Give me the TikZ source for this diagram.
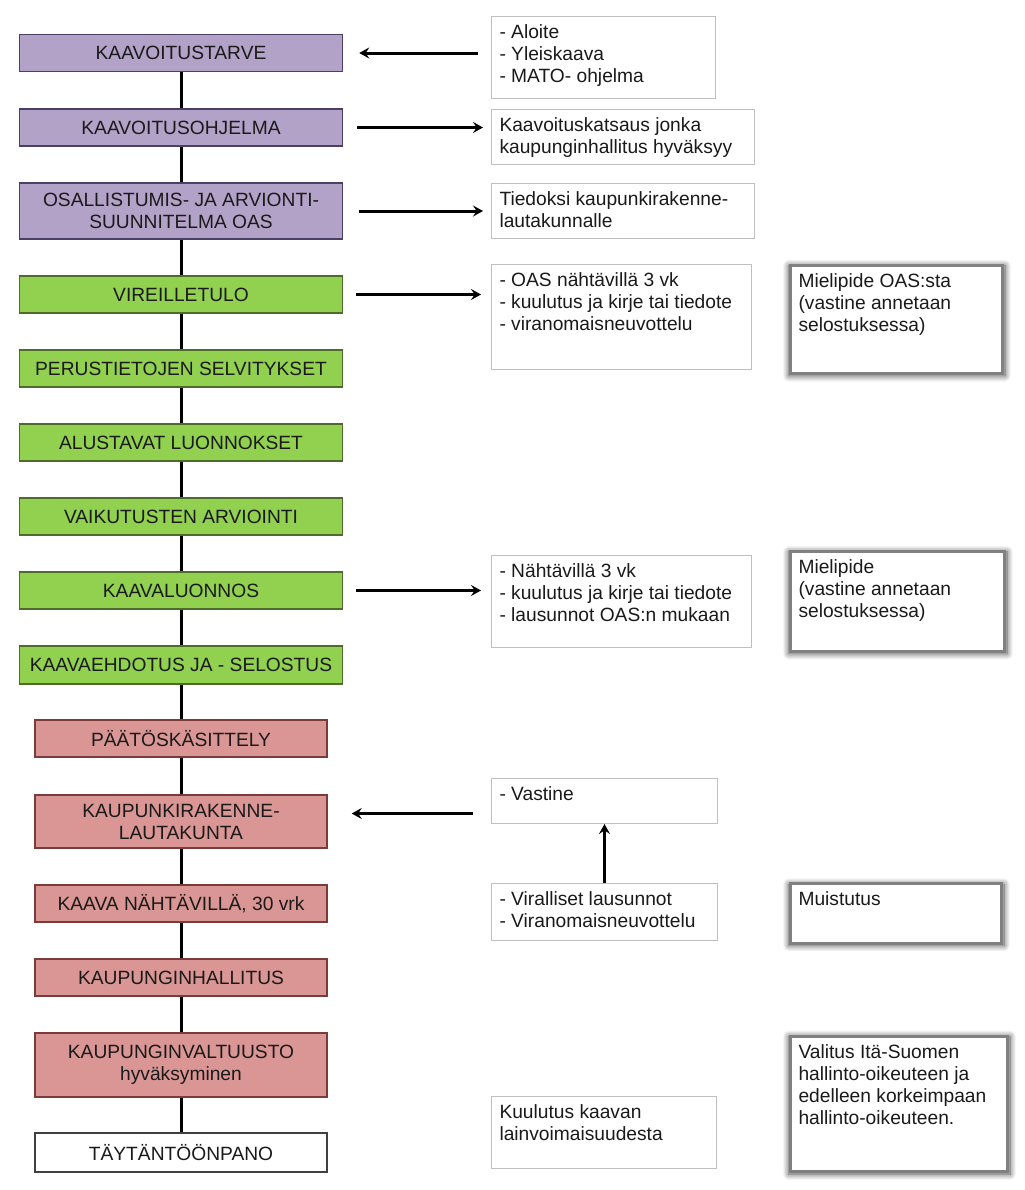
\documentclass[tikz,border=0pt]{standalone}
\usepackage{fontspec}
\setmainfont{Liberation Sans}
\usepackage{tikz}
\usetikzlibrary{arrows.meta, positioning, calc, shadows.blur}
\definecolor{lilafill}{HTML}{B3A2C7}
\definecolor{lilaline}{HTML}{4A3F66}
\definecolor{verdefill}{HTML}{92D050}
\definecolor{verdeline}{HTML}{4F6B2A}
\definecolor{rojofill}{HTML}{D99694}
\definecolor{rojoline}{HTML}{7A3B39}
\definecolor{grisnota}{HTML}{BFBFBF}
\definecolor{grisalerta}{HTML}{808080}
\definecolor{tinta}{HTML}{1A1A1A}

\begin{document}
\begin{tikzpicture}[x=0.5pt, y=-0.5pt,
    % 1. ESTILO BASE: fuente tipo Arial
    base/.style={font=\fontsize{9.6}{11}\selectfont, text=tinta, inner sep=0pt, align=center},
    % 2. FASES DEL PROCESO (columna izquierda)
    fase/.style={base, draw=lilaline, fill=lilafill, line width=0.75pt,
        minimum width=161.5pt, minimum height=18.5pt},
    faseverde/.style={fase, draw=verdeline, fill=verdefill},
    faseroja/.style={fase, draw=rojoline, fill=rojofill, minimum width=146pt},
    fasefinal/.style={faseroja, draw=black!75, fill=white},
    % 3. NOTAS (columna derecha)
    nota/.style={base, draw=grisnota, fill=white, line width=0.5pt,
        anchor=north west, inner xsep=4pt, inner ysep=4pt, align=left},
    alerta/.style={nota, draw=grisalerta, line width=1.5pt,
        blur shadow={shadow xshift=0.2pt, shadow yshift=-0.6pt,
            shadow scale=1.02, shadow blur radius=3pt, shadow blur steps=10,
            shadow opacity=70}},
    % 4. FLECHAS Y CONECTORES
    flecha/.style={-{Stealth[length=5pt, width=5.5pt, inset=1.8pt]},
        line width=1.5pt, color=black, shorten <=6.5pt, shorten >=5pt},
    conector/.style={line width=1.5pt, color=black}
]
    \useasboundingbox (0,0) rectangle (1024,1190);

    % --- COLUMNA 1: Fases ---
    \node[fase] (tarve)   at (181, 53)    {KAAVOITUSTARVE};
    \node[fase] (ohjelma) at (181, 127.5) {KAAVOITUSOHJELMA};
    \node[fase, minimum height=28pt] (oas) at (181, 211)
        {OSALLISTUMIS- JA ARVIONTI-\\SUUNNITELMA OAS};

    \node[faseverde] (vireille)  at (181, 294.5) {VIREILLETULO};
    \node[faseverde] (perus)     at (181, 368.5) {PERUSTIETOJEN SELVITYKSET};
    \node[faseverde] (alustavat) at (181, 442.5) {ALUSTAVAT LUONNOKSET};
    \node[faseverde] (vaikutus)  at (181, 516.5) {VAIKUTUSTEN ARVIOINTI};
    \node[faseverde] (luonnos)   at (181, 590.5) {KAAVALUONNOS};
    \node[faseverde, minimum height=19pt] (ehdotus) at (181, 665)
        {KAAVAEHDOTUS JA - SELOSTUS};

    \node[faseroja] (paatos) at (181, 738.5) {PÄÄTÖSKÄSITTELY};
    \node[faseroja, minimum height=26.5pt] (lauta) at (181, 821.5)
        {KAUPUNKIRAKENNE-\\LAUTAKUNTA};
    \node[faseroja] (nahtavilla) at (181, 903.5) {KAAVA NÄHTÄVILLÄ, 30 vrk};
    \node[faseroja] (hallitus)   at (181, 977.5) {KAUPUNGINHALLITUS};
    \node[faseroja, minimum height=32pt] (valtuusto) at (181, 1065)
        {KAUPUNGINVALTUUSTO\\hyväksyminen};
    \node[fasefinal, minimum height=19.5pt] (taytanto) at (181, 1152.5) {TÄYTÄNTÖÖNPANO};

    % --- COLUMNA 2: Notas ---
    \node[nota] (aloite) at (491, 16)
        {\parbox[t][33pt][t]{104pt}{- Aloite\\- Yleiskaava\\- MATO- ohjelma}};
    \node[nota] (katsaus) at (491, 109)
        {\parbox[t][19.5pt][t]{123.5pt}{Kaavoituskatsaus jonka\\kaupunginhallitus hyväksyy}};
    \node[nota] (tiedoksi) at (491, 183)
        {\parbox[t][19.5pt][t]{123.5pt}{Tiedoksi kaupunkirakenne-\\lautakunnalle}};
    \node[nota] (oasnah) at (491, 264)
        {\parbox[t][44.5pt][t]{122pt}{- OAS nähtävillä 3 vk\\- kuulutus ja kirje tai tiedote\\- viranomaisneuvottelu}};
    \node[nota] (nahtav) at (491, 555)
        {\parbox[t][38pt][t]{122pt}{- Nähtävillä 3 vk\\- kuulutus ja kirje tai tiedote\\- lausunnot OAS:n mukaan}};
    \node[nota] (vastine) at (491, 778)
        {\parbox[t][14.5pt][t]{105pt}{- Vastine}};
    \node[nota] (viralliset) at (491, 883)
        {\parbox[t][20.5pt][t]{105pt}{- Viralliset lausunnot\\- Viranomaisneuvottelu}};
    \node[nota] (kuulutus) at (491, 1096)
        {\parbox[t][28pt][t]{104.5pt}{Kuulutus kaavan\\lainvoimaisuudesta}};

    % --- COLUMNA 3: Mielipiteet ja muistutukset ---
    \node[alerta] (mielipide) at (789, 264)
        {\parbox[t][46pt][t]{98pt}{Mielipide OAS:sta\\(vastine annetaan\\selostuksessa)}};
    \node[alerta] (mielipide2) at (789, 550)
        {\parbox[t][42pt][t]{99pt}{Mielipide\\(vastine annetaan\\selostuksessa)}};
    \node[alerta] (muistutus) at (789, 882)
        {\parbox[t][22pt][t]{97.5pt}{Muistutus}};
    \node[alerta] (valitus) at (789, 1035)
        {\parbox[t][59.5pt][t]{100.5pt}{Valitus Itä-Suomen\\hallinto-oikeuteen ja\\edelleen korkeimpaan\\hallinto-oikeuteen.}};

    % ==========================================
    % CONEXIONES
    % ==========================================

    % Linea vertical entre fases
    \foreach \a/\b in {tarve/ohjelma, ohjelma/oas, oas/vireille, vireille/perus,
        perus/alustavat, alustavat/vaikutus, vaikutus/luonnos, luonnos/ehdotus,
        ehdotus/paatos, paatos/lauta, lauta/nahtavilla, nahtavilla/hallitus,
        hallitus/valtuusto, valtuusto/taytanto}
        \draw[conector] (\a.south) -- (\b.north);

    % Notas -> fases
    \draw[flecha, shorten >=8pt] (tarve.east -| aloite.west) -- (tarve.east);
    \coordinate (lautain) at ([yshift=4pt]lauta.east);
    \draw[flecha, shorten <=9pt, shorten >=12pt] (lautain -| vastine.west) -- (lautain);
    \draw[flecha, shorten <=0pt, shorten >=0pt] (viralliset.north) -- (vastine.south);

    % Fases -> notas
    \draw[flecha, shorten <=7pt, shorten >=4pt] (ohjelma.east) -- (ohjelma.east -| katsaus.west);
    \draw[flecha, shorten <=8pt, shorten >=4pt] (oas.east) -- (oas.east -| tiedoksi.west);
    \draw[flecha] (vireille.east) -- (vireille.east -| oasnah.west);
    \draw[flecha] (luonnos.east) -- (luonnos.east -| nahtav.west);

\end{tikzpicture}
\end{document}
